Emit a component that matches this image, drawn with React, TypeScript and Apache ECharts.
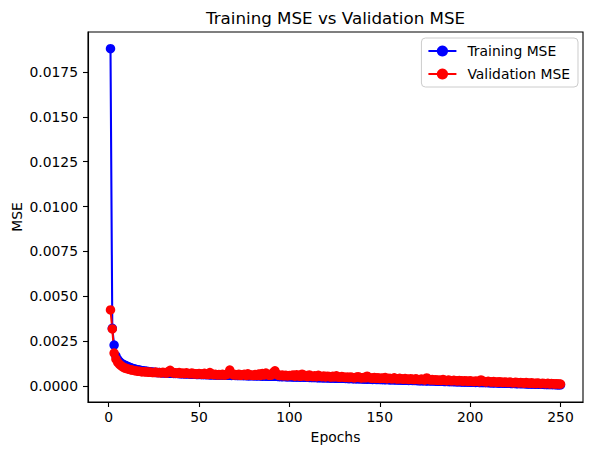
import React, { useEffect, useRef } from "react";
import * as echarts from "echarts";

const trainingMSE: number[] = [
  0.0188, 0.00322, 0.00228, 0.00168, 0.00148, 0.00136, 0.00127, 0.00121, 0.00116, 0.00111,
  0.00107, 0.00103, 0.00099, 0.00096, 0.00093, 0.00091, 0.00089, 0.00087, 0.00085, 0.00084,
  0.00082, 0.00081, 0.00079, 0.00078, 0.00077, 0.00076, 0.00075, 0.00075, 0.00074, 0.00073,
  0.00073, 0.00073, 0.00072, 0.00071, 0.00071, 0.0007, 0.0007, 0.0007, 0.00069, 0.00069,
  0.00068, 0.00068, 0.00067, 0.00068, 0.00066, 0.00066, 0.00065, 0.00066, 0.00064, 0.00065,
  0.00064, 0.00064, 0.00064, 0.00063, 0.00064, 0.00062, 0.00062, 0.00063, 0.00061, 0.00061,
  0.00061, 0.00061, 0.00062, 0.00061, 0.0006, 0.00061, 0.0006, 0.00059, 0.0006, 0.00059,
  0.00059, 0.00058, 0.00059, 0.00058, 0.00058, 0.00058, 0.00057, 0.00057, 0.00058, 0.00057,
  0.00057, 0.00056, 0.00057, 0.00056, 0.00055, 0.00056, 0.00055, 0.00055, 0.00054, 0.00055,
  0.00054, 0.00054, 0.00054, 0.00053, 0.00053, 0.00052, 0.00053, 0.00052, 0.00051, 0.00052,
  0.00051, 0.00051, 0.0005, 0.00051, 0.0005, 0.00049, 0.0005, 0.00049, 0.00049, 0.00049,
  0.00048, 0.00048, 0.00047, 0.00048, 0.00047, 0.00046, 0.00047, 0.00046, 0.00046, 0.00046,
  0.00045, 0.00045, 0.00044, 0.00045, 0.00044, 0.00043, 0.00044, 0.00043, 0.00043, 0.00043,
  0.00042, 0.00042, 0.00041, 0.00042, 0.00041, 0.0004, 0.00041, 0.0004, 0.0004, 0.0004,
  0.00039, 0.00039, 0.00038, 0.00039, 0.00038, 0.00037, 0.00038, 0.00037, 0.00037, 0.00037,
  0.00036, 0.00036, 0.00035, 0.00036, 0.00035, 0.00034, 0.00035, 0.00034, 0.00034, 0.00034,
  0.00033, 0.00033, 0.00032, 0.00033, 0.00032, 0.00031, 0.00032, 0.00031, 0.00031, 0.00031,
  0.0003, 0.0003, 0.00029, 0.0003, 0.00029, 0.00028, 0.00029, 0.00028, 0.00028, 0.00028,
  0.00027, 0.00027, 0.00026, 0.00027, 0.00026, 0.00025, 0.00026, 0.00025, 0.00025, 0.00025,
  0.00024, 0.00024, 0.00023, 0.00024, 0.00023, 0.00022, 0.00023, 0.00022, 0.00022, 0.00022,
  0.00021, 0.00021, 0.0002, 0.00021, 0.0002, 0.00019, 0.0002, 0.00019, 0.00019, 0.00019,
  0.00018, 0.00018, 0.00017, 0.00018, 0.00017, 0.00016, 0.00017, 0.00016, 0.00016, 0.00016,
  0.00015, 0.00015, 0.00014, 0.00015, 0.00014, 0.00013, 0.00014, 0.00013, 0.00013, 0.00013,
  0.00012, 0.00012, 0.00011, 0.00012, 0.00011, 0.0001, 0.00011, 0.0001, 0.0001, 0.0001,
  0.00009, 0.00009, 0.00008, 0.00009, 0.00008, 0.00008, 0.00008, 0.00007, 0.00007, 0.00007,
];

const validationMSE: number[] = [
  0.00424, 0.00318, 0.00184, 0.0015, 0.00132, 0.00121, 0.00112, 0.00105, 0.001, 0.00097,
  0.00094, 0.00091, 0.00089, 0.00087, 0.00085, 0.00083, 0.00082, 0.0008, 0.00079, 0.0008,
  0.00078, 0.00077, 0.00078, 0.00076, 0.00075, 0.00078, 0.00074, 0.00075, 0.00073, 0.00077,
  0.00074, 0.00072, 0.0008, 0.00088, 0.00076, 0.00072, 0.00074, 0.00071, 0.00075, 0.0007,
  0.00072, 0.00069, 0.00074, 0.0007, 0.00068, 0.00073, 0.00067, 0.00069, 0.00066, 0.0007,
  0.00067, 0.00065, 0.00071, 0.00066, 0.00064, 0.00075, 0.00068, 0.00063, 0.00065, 0.00062,
  0.00064, 0.00062, 0.00066, 0.00061, 0.00063, 0.00067, 0.00089, 0.0007, 0.00062, 0.00064,
  0.00061, 0.00066, 0.0006, 0.00063, 0.00065, 0.0006, 0.00068, 0.00061, 0.00062, 0.00059,
  0.00064, 0.0006, 0.00067, 0.00059, 0.0007, 0.00062, 0.00072, 0.00063, 0.0006, 0.00061,
  0.00075, 0.00085, 0.00066, 0.0006, 0.00058, 0.00062, 0.00057, 0.0006, 0.00056, 0.00059,
  0.00058, 0.00061, 0.00055, 0.00063, 0.00057, 0.00054, 0.00066, 0.00056, 0.00058, 0.00053,
  0.00062, 0.00055, 0.00053, 0.00057, 0.00052, 0.0006, 0.00054, 0.00052, 0.00056, 0.00051,
  0.00055, 0.00053, 0.0005, 0.00054, 0.00051, 0.00057, 0.0005, 0.00049, 0.00053, 0.0005,
  0.00048, 0.00051, 0.00047, 0.0005, 0.00048, 0.00046, 0.00049, 0.00052, 0.00047, 0.00045,
  0.00048, 0.00046, 0.00055, 0.00047, 0.00045, 0.00044, 0.00048, 0.00043, 0.00046, 0.00042,
  0.00045, 0.00043, 0.00047, 0.00041, 0.00044, 0.00042, 0.0004, 0.00046, 0.00041, 0.00039,
  0.00043, 0.0004, 0.00038, 0.00042, 0.00039, 0.00037, 0.00041, 0.00038, 0.00036, 0.0004,
  0.00037, 0.00035, 0.00039, 0.00036, 0.00034, 0.00045, 0.00037, 0.00034, 0.00036, 0.00033,
  0.00035, 0.00032, 0.00034, 0.00031, 0.00036, 0.00032, 0.0003, 0.00033, 0.00031, 0.00029,
  0.00032, 0.0003, 0.00028, 0.00031, 0.00029, 0.00027, 0.0003, 0.00028, 0.00026, 0.00029,
  0.00027, 0.00025, 0.00028, 0.00026, 0.00024, 0.00034, 0.00027, 0.00025, 0.00023, 0.00026,
  0.00024, 0.00022, 0.00025, 0.00023, 0.00021, 0.00024, 0.00022, 0.0002, 0.00023, 0.00021,
  0.00019, 0.00022, 0.0002, 0.00018, 0.00021, 0.00019, 0.00017, 0.0002, 0.00018, 0.00016,
  0.00019, 0.00017, 0.00015, 0.00018, 0.00016, 0.00014, 0.00017, 0.00015, 0.00013, 0.00016,
  0.00014, 0.00013, 0.00015, 0.00012, 0.00014, 0.00013, 0.00011, 0.00013, 0.00012, 0.00011,
];

const xTicks: number[] = [0, 50, 100, 150, 200, 250];
const yTicks: number[] = [0, 0.0025, 0.005, 0.0075, 0.01, 0.0125, 0.015, 0.0175];

const FONT = "DejaVu Sans";

export default function App() {
  const ref = useRef<HTMLDivElement>(null);
  useEffect(() => {
    if (!ref.current) return;
    const chart = echarts.init(ref.current, null, { renderer: "svg" });
    const trainData = trainingMSE.map((v, i) => [i + 1, v]);
    const valData = validationMSE.map((v, i) => [i + 1, v]);
    chart.setOption({
      animation: false,
      backgroundColor: "#fff",
      grid: {
        left: 88,
        right: 10,
        top: 32,
        bottom: 53,
        show: true,
        borderColor: "#000",
        borderWidth: 1.1,
        containLabel: false,
      },
      graphic: [
        {
          type: "text",
          x: 335.5,
          y: 18,
          style: {
            text: "Training MSE vs Validation MSE",
            textAlign: "center",
            textVerticalAlign: "middle",
            fontFamily: FONT,
            fontSize: 16.7,
            fill: "#000",
          },
        },
        {
          type: "text",
          x: 335.5,
          y: 437,
          style: {
            text: "Epochs",
            textAlign: "center",
            textVerticalAlign: "middle",
            fontFamily: FONT,
            fontSize: 13.9,
            fill: "#000",
          },
        },
        {
          type: "text",
          x: 17,
          y: 217,
          rotation: Math.PI / 2,
          style: {
            text: "MSE",
            textAlign: "center",
            textVerticalAlign: "middle",
            fontFamily: FONT,
            fontSize: 13.9,
            fill: "#000",
          },
        },
      ],
      legend: {
        orient: "vertical",
        right: 15,
        top: 38,
        padding: [6, 8, 6, 6],
        itemGap: 9,
        itemWidth: 28,
        itemHeight: 14,
        borderColor: "#cccccc",
        borderWidth: 1,
        borderRadius: 4,
        backgroundColor: "rgba(255,255,255,0.8)",
        textStyle: {
          fontFamily: FONT,
          fontSize: 13.9,
          color: "#000",
          padding: [0, 0, 0, 6],
        },
        data: ["Training MSE", "Validation MSE"],
      },
      xAxis: {
        type: "value",
        min: -11.45,
        max: 262.45,
        splitLine: { show: false },
        axisLine: { show: true, onZero: false, lineStyle: { color: "#000", width: 1.1 } },
        axisTick: {
          show: true,
          length: 5,
          lineStyle: { color: "#000", width: 1.1 },
          customValues: xTicks,
        },
        axisLabel: {
          margin: 8,
          color: "#000",
          fontFamily: FONT,
          fontSize: 13.9,
          customValues: xTicks,
          formatter: (v: number) => String(v),
        },
      },
      yAxis: {
        type: "value",
        min: -0.00089,
        max: 0.01973,
        splitLine: { show: false },
        axisLine: { show: true, onZero: false, lineStyle: { color: "#000", width: 1.1 } },
        axisTick: {
          show: true,
          length: 5,
          lineStyle: { color: "#000", width: 1.1 },
          customValues: yTicks,
        },
        axisLabel: {
          margin: 10,
          color: "#000",
          fontFamily: FONT,
          fontSize: 13.9,
          customValues: yTicks,
          formatter: (v: number) => v.toFixed(4),
        },
      },
      series: [
        {
          name: "Training MSE",
          type: "line",
          data: trainData,
          symbol: "circle",
          symbolSize: 9.5,
          showSymbol: true,
          color: "#0000ff",
          itemStyle: { color: "#0000ff" },
          lineStyle: { color: "#0000ff", width: 2.08 },
        },
        {
          name: "Validation MSE",
          type: "line",
          data: valData,
          symbol: "circle",
          symbolSize: 9.5,
          showSymbol: true,
          color: "#ff0000",
          itemStyle: { color: "#ff0000" },
          lineStyle: { color: "#ff0000", width: 2.08 },
        },
      ],
    });
    return () => chart.dispose();
  }, []);
  return (
    <div
      ref={ref}
      style={{ position: "absolute", left: 0, top: 0, width: 593, height: 455 }}
    />
  );
}
